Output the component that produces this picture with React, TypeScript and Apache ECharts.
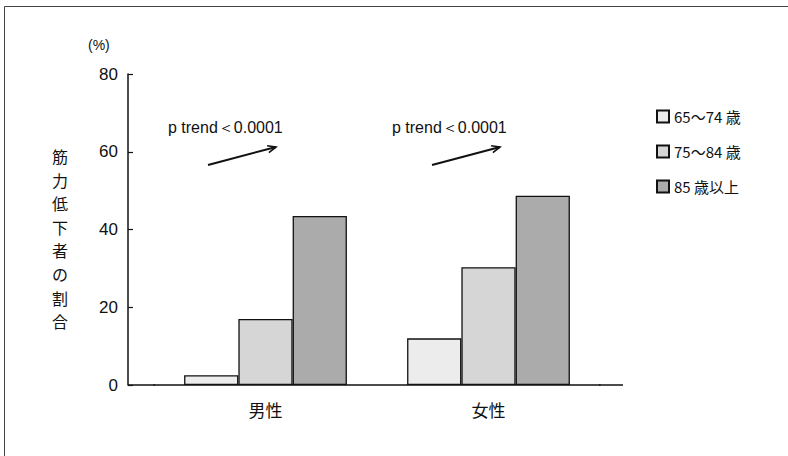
import React, { useEffect, useRef } from "react";
import * as echarts from "echarts";

const categories = ["男性", "女性"];
const seriesNames = ["65～74 歳", "75～84 歳", "85 歳以上"];
const age65to74 = [2.5, 12];
const age75to84 = [17, 30.3];
const age85plus = [43.5, 48.7];
const yTicks = { min: 0, max: 80, interval: 20 };
const trendLabel = "p trend＜0.0001";
const yTitle = "筋力低下者の割合";
const barColors = ["#ececec", "#d6d6d6", "#ababab"];

const NUM_FONT = "'Liberation Sans', Arial, sans-serif";
const JP_FONT = "'Noto Sans CJK JP', 'Liberation Sans', sans-serif";

export default function App() {
  const ref = useRef<HTMLDivElement>(null);
  useEffect(() => {
    if (!ref.current) return;
    const chart = echarts.init(ref.current, null, { renderer: "svg" });
    const values = [age65to74, age75to84, age85plus];
    const arrow = (x0: number, y0: number, x1: number, y1: number) => {
      const ang = Math.atan2(y1 - y0, x1 - x0);
      const h = 9;
      const a1 = ang + Math.PI - 0.4;
      const a2 = ang + Math.PI + 0.4;
      return [
        { type: "line", shape: { x1: x0, y1: y0, x2: x1, y2: y1 }, style: { stroke: "#111", lineWidth: 2 } },
        {
          type: "polyline",
          shape: {
            points: [
              [x1 + h * Math.cos(a1), y1 + h * Math.sin(a1)],
              [x1, y1],
              [x1 + h * Math.cos(a2), y1 + h * Math.sin(a2)],
            ],
          },
          style: { stroke: "#111", lineWidth: 1.6, fill: "none" },
        },
      ];
    };
    const titleChars = yTitle.split("").map((ch, i) => ({
      type: "text",
      x: 60,
      y: 156 + i * 23.6,
      style: {
        text: ch,
        fontSize: 16,
        fill: "#111",
        fontFamily: JP_FONT,
        align: "center",
        verticalAlign: "middle",
      },
    }));
    chart.setOption({
      animation: false,
      backgroundColor: "#ffffff",
      grid: { left: 154, right: 188, top: 74, bottom: 71, containLabel: false },
      legend: {
        orient: "vertical",
        left: 651,
        top: 104,
        itemWidth: 12,
        itemHeight: 12,
        itemGap: 20,
        icon: "rect",
        data: seriesNames,
        textStyle: { fontSize: 15, color: "#111", fontFamily: JP_FONT },
      },
      xAxis: {
        type: "category",
        data: categories,
        axisLine: { lineStyle: { color: "#111", width: 1.5 } },
        axisTick: { show: false },
        axisLabel: { margin: 16, fontSize: 17, color: "#111", fontFamily: JP_FONT },
      },
      yAxis: {
        type: "value",
        min: yTicks.min,
        max: yTicks.max,
        interval: yTicks.interval,
        offset: 26,
        splitLine: { show: false },
        axisLine: { show: true, lineStyle: { color: "#111", width: 1.5 } },
        axisTick: { show: true, inside: true, length: 5, lineStyle: { color: "#111", width: 1.2 } },
        axisLabel: { margin: 10, fontSize: 17, color: "#111", fontFamily: NUM_FONT },
      },
      series: seriesNames.map((name, i) => ({
        name,
        type: "bar",
        data: values[i],
        barGap: "0%",
        barCategoryGap: "27%",
        itemStyle: { color: barColors[i], borderColor: "#111", borderWidth: 1.3 },
      })),
      graphic: [
        {
          type: "rect",
          silent: true,
          shape: { x: 4.5, y: 6.5, width: 900, height: 600 },
          style: { fill: "none", stroke: "#444", lineWidth: 1 },
        },
        { type: "line", shape: { x1: 128, y1: 385, x2: 155, y2: 385 }, style: { stroke: "#111", lineWidth: 1.5 } },
        { type: "line", shape: { x1: 599, y1: 385, x2: 623, y2: 385 }, style: { stroke: "#111", lineWidth: 1.5 } },
        {
          type: "text",
          x: 88,
          y: 45,
          style: { text: "(%)", fontSize: 14, fill: "#111", fontFamily: NUM_FONT, verticalAlign: "middle" },
        },
        ...titleChars,
        {
          type: "text",
          x: 168,
          y: 127,
          style: { text: trendLabel, fontSize: 16, fill: "#111", fontFamily: NUM_FONT, verticalAlign: "middle" },
        },
        {
          type: "text",
          x: 392,
          y: 127,
          style: { text: trendLabel, fontSize: 16, fill: "#111", fontFamily: NUM_FONT, verticalAlign: "middle" },
        },
        ...arrow(208, 165, 276, 147),
        ...arrow(432, 165, 500, 147),
      ],
    });
    return () => chart.dispose();
  }, []);
  return (
    <div
      ref={ref}
      style={{ position: "fixed", left: 0, top: 0, width: 788, height: 456 }}
    />
  );
}
